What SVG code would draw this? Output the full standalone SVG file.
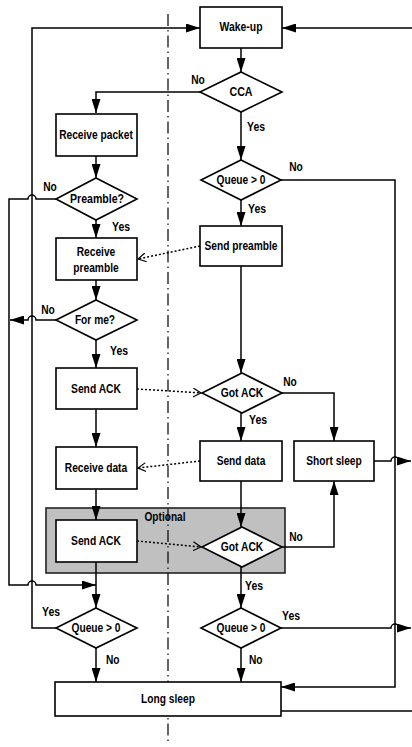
<svg xmlns="http://www.w3.org/2000/svg" width="412" height="747" viewBox="0 0 412 747">
  <style>
    .box { fill: #fff; stroke: #000; stroke-width: 1.6; }
    .opt { fill: #c0c0c0; stroke: #222; stroke-width: 1.6; }
    .line { fill: none; stroke: #000; stroke-width: 1.5; }
    .dot { fill: none; stroke: #000; stroke-width: 1.5; stroke-dasharray: 2 2; }
    .axis { fill: none; stroke: #000; stroke-width: 1.2; stroke-dasharray: 12 4 1.5 4; }
    text { font-family: "Liberation Sans", Arial, sans-serif; font-weight: bold; font-size: 12px; fill: #000; }
    .c { text-anchor: middle; }
  </style>
  <defs>
    <marker id="arr" markerWidth="14" markerHeight="9" refX="14" refY="4.5" orient="auto" markerUnits="userSpaceOnUse">
      <path d="M0,0 L14,4.5 L0,9 z" fill="#000"/>
    </marker>
    <marker id="open" markerWidth="10" markerHeight="10" refX="8" refY="5" orient="auto" markerUnits="userSpaceOnUse">
      <path d="M0,0.5 L8,5 L0,9.5" fill="none" stroke="#000" stroke-width="1.2"/>
    </marker>
  </defs>

  <rect width="412" height="747" fill="#fff"/>

  <!-- optional region behind the second ACK exchange -->
  <g id="optional">
    <rect class="opt" x="46" y="508" width="239" height="65"/>
    <text class="c" x="165" y="521" textLength="41" lengthAdjust="spacingAndGlyphs">Optional</text>
  </g>

  <!-- receiver / sender divider -->
  <line class="axis" x1="168" y1="14" x2="168" y2="742"/>

  <g id="connectors">
    <!-- sender side -->
    <path class="line" d="M412,28 H282" marker-end="url(#arr)"/>
    <path class="line" d="M241,48 V72" marker-end="url(#arr)"/>
    <path class="line" d="M241,112 V160" marker-end="url(#arr)"/>
    <path class="line" d="M241,200 V226" marker-end="url(#arr)"/>
    <path class="line" d="M281,180 H395 V687 H281" marker-end="url(#arr)"/>
    <path class="line" d="M241,266 V373" marker-end="url(#arr)"/>
    <path class="line" d="M282,393 H334 V441" marker-end="url(#arr)"/>
    <path class="line" d="M241,413 V441" marker-end="url(#arr)"/>
    <path class="line" d="M241,481 V527" marker-end="url(#arr)"/>
    <path class="line" d="M282,547 H334 V481" marker-end="url(#arr)"/>
    <path class="line" d="M374,461 H391 A4,4 0 0,1 399,461 H411" marker-end="url(#arr)"/>
    <path class="line" d="M241,567 V608" marker-end="url(#arr)"/>
    <path class="line" d="M281,628 H391 A4,4 0 0,1 399,628 H411" marker-end="url(#arr)"/>
    <path class="line" d="M241,648 V682" marker-end="url(#arr)"/>
    <path class="line" d="M281,711 H412"/>

    <!-- receiver side -->
    <path class="line" d="M202,92 H96 V113" marker-end="url(#arr)"/>
    <path class="line" d="M96,156 V178" marker-end="url(#arr)"/>
    <path class="line" d="M56,199 H36 A4,4 0 0,0 28,199 H9 V585 H28 A4,4 0 0,1 36,585 H96" marker-end="url(#arr)"/>
    <path class="line" d="M96,220 V238" marker-end="url(#arr)"/>
    <path class="line" d="M96,280 V300" marker-end="url(#arr)"/>
    <path class="line" d="M56,320 H36 A4,4 0 0,0 28,320 H10" marker-end="url(#arr)"/>
    <path class="line" d="M96,340 V368" marker-end="url(#arr)"/>
    <path class="line" d="M96,409 V447" marker-end="url(#arr)"/>
    <path class="line" d="M96,489 V520" marker-end="url(#arr)"/>
    <path class="line" d="M96,562 V608" marker-end="url(#arr)"/>
    <path class="line" d="M56,628 H32 V28 H200" marker-end="url(#arr)"/>
    <path class="line" d="M96,648 V682" marker-end="url(#arr)"/>

    <!-- radio messages between the two nodes -->
    <path class="dot" d="M200,246 L138,259" marker-end="url(#open)"/>
    <path class="dot" d="M137,389 L201,393" marker-end="url(#open)"/>
    <path class="dot" d="M200,461 L138,468" marker-end="url(#open)"/>
    <path class="dot" d="M137,541 L201,547" marker-end="url(#open)"/>

    <!-- branch labels -->
    <text class="c" x="198" y="84" textLength="13.6" lengthAdjust="spacingAndGlyphs">No</text>
    <text x="247" y="131" textLength="18" lengthAdjust="spacingAndGlyphs">Yes</text>
    <text class="c" x="296" y="171" textLength="13.6" lengthAdjust="spacingAndGlyphs">No</text>
    <text x="248" y="213" textLength="18" lengthAdjust="spacingAndGlyphs">Yes</text>
    <text class="c" x="290" y="386" textLength="13.6" lengthAdjust="spacingAndGlyphs">No</text>
    <text x="249" y="424" textLength="18" lengthAdjust="spacingAndGlyphs">Yes</text>
    <text class="c" x="296" y="541" textLength="13.6" lengthAdjust="spacingAndGlyphs">No</text>
    <text x="245" y="590" textLength="18" lengthAdjust="spacingAndGlyphs">Yes</text>
    <text x="282" y="620" textLength="18" lengthAdjust="spacingAndGlyphs">Yes</text>
    <text x="249" y="664" textLength="13.6" lengthAdjust="spacingAndGlyphs">No</text>
    <text class="c" x="50" y="191" textLength="13.6" lengthAdjust="spacingAndGlyphs">No</text>
    <text x="112" y="231" textLength="18" lengthAdjust="spacingAndGlyphs">Yes</text>
    <text class="c" x="48" y="314" textLength="13.6" lengthAdjust="spacingAndGlyphs">No</text>
    <text x="110" y="355" textLength="18" lengthAdjust="spacingAndGlyphs">Yes</text>
    <text x="42" y="616" textLength="18" lengthAdjust="spacingAndGlyphs">Yes</text>
    <text x="106" y="664" textLength="13.6" lengthAdjust="spacingAndGlyphs">No</text>
  </g>

  <!-- sender nodes -->
  <g id="wake-up">
    <rect class="box" x="200" y="7" width="82" height="41"/>
    <text class="c" x="241" y="31" textLength="43" lengthAdjust="spacingAndGlyphs">Wake-up</text>
  </g>
  <g id="cca">
    <polygon class="box" points="241,72 282,92 241,112 200,92"/>
    <text class="c" x="241" y="96" textLength="23" lengthAdjust="spacingAndGlyphs">CCA</text>
  </g>
  <g id="queue-tx">
    <polygon class="box" points="241,160 281,180 241,200 201,180"/>
    <text class="c" x="241" y="184" textLength="49" lengthAdjust="spacingAndGlyphs">Queue &gt; 0</text>
  </g>
  <g id="send-preamble">
    <rect class="box" x="200" y="226" width="82" height="40"/>
    <text class="c" x="241" y="250" textLength="73" lengthAdjust="spacingAndGlyphs">Send preamble</text>
  </g>
  <g id="got-ack-1">
    <polygon class="box" points="242,373 282,393 242,413 202,393"/>
    <text class="c" x="242" y="397" textLength="42.5" lengthAdjust="spacingAndGlyphs">Got ACK</text>
  </g>
  <g id="send-data">
    <rect class="box" x="200" y="441" width="82" height="40"/>
    <text class="c" x="241" y="465" textLength="48.7" lengthAdjust="spacingAndGlyphs">Send data</text>
  </g>
  <g id="short-sleep">
    <rect class="box" x="294" y="441" width="80" height="40"/>
    <text class="c" x="334" y="465" textLength="55.5" lengthAdjust="spacingAndGlyphs">Short sleep</text>
  </g>
  <g id="got-ack-2">
    <polygon class="box" points="242,527 282,547 242,567 202,547"/>
    <text class="c" x="242" y="551" textLength="42.5" lengthAdjust="spacingAndGlyphs">Got ACK</text>
  </g>
  <g id="queue-tx-2">
    <polygon class="box" points="241,608 281,628 241,648 201,628"/>
    <text class="c" x="241" y="632" textLength="49" lengthAdjust="spacingAndGlyphs">Queue &gt; 0</text>
  </g>

  <!-- receiver nodes -->
  <g id="receive-packet">
    <rect class="box" x="56" y="114" width="81" height="42"/>
    <text class="c" x="96" y="139" textLength="73.7" lengthAdjust="spacingAndGlyphs">Receive packet</text>
  </g>
  <g id="preamble">
    <polygon class="box" points="96,178 137,199 96,220 56,199"/>
    <text class="c" x="97" y="203" textLength="54" lengthAdjust="spacingAndGlyphs">Preamble?</text>
  </g>
  <g id="receive-preamble">
    <rect class="box" x="56" y="238" width="81" height="42"/>
    <text class="c" x="96" y="256" textLength="38.6" lengthAdjust="spacingAndGlyphs">Receive</text>
    <text class="c" x="96" y="272" textLength="45.3" lengthAdjust="spacingAndGlyphs">preamble</text>
  </g>
  <g id="for-me">
    <polygon class="box" points="96,300 137,320 96,340 56,320"/>
    <text class="c" x="95" y="324" textLength="40.2" lengthAdjust="spacingAndGlyphs">For me?</text>
  </g>
  <g id="send-ack-1">
    <rect class="box" x="56" y="368" width="81" height="41"/>
    <text class="c" x="96" y="393" textLength="49.9" lengthAdjust="spacingAndGlyphs">Send ACK</text>
  </g>
  <g id="receive-data">
    <rect class="box" x="56" y="447" width="81" height="42"/>
    <text class="c" x="96" y="472" textLength="62.4" lengthAdjust="spacingAndGlyphs">Receive data</text>
  </g>
  <g id="send-ack-2">
    <rect class="box" x="56" y="520" width="81" height="42"/>
    <text class="c" x="96" y="545" textLength="49.9" lengthAdjust="spacingAndGlyphs">Send ACK</text>
  </g>
  <g id="queue-rx">
    <polygon class="box" points="96,608 137,628 96,648 56,628"/>
    <text class="c" x="96" y="632" textLength="49" lengthAdjust="spacingAndGlyphs">Queue &gt; 0</text>
  </g>

  <g id="long-sleep">
    <rect class="box" x="55" y="682" width="226" height="34"/>
    <text class="c" x="168" y="703" textLength="53.8" lengthAdjust="spacingAndGlyphs">Long sleep</text>
  </g>
</svg>
